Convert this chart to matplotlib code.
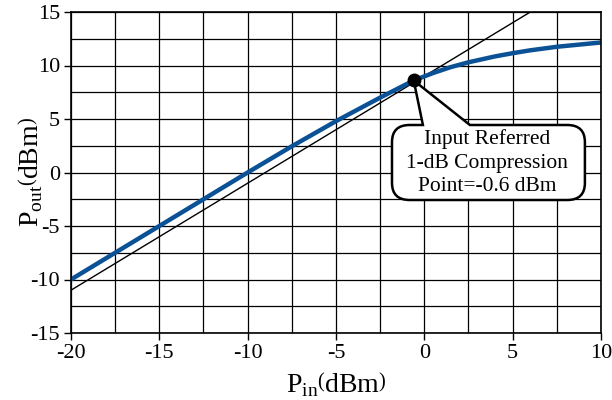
import numpy as np
import matplotlib
matplotlib.use('Agg')
import matplotlib.pyplot as plt
from matplotlib.path import Path
from matplotlib.patches import PathPatch

plt.rcParams['font.family'] = ['Liberation Serif', 'DejaVu Serif']
plt.rcParams['mathtext.fontset'] = 'custom'
plt.rcParams['mathtext.rm'] = 'Liberation Serif'
plt.rcParams['axes.unicode_minus'] = False

# measured output power vs input power
pin = [-20, -17.5, -15, -12.5, -10, -7.5, -5, -2.5, -0.6, 0.5, 1.5, 2.5, 4, 5, 6, 7.5, 10]
pout = [-10, -7.5, -5, -2.5, 0, 2.45, 4.8, 7.0, 8.6, 9.3, 9.85, 10.3, 10.85, 11.15, 11.42, 11.75, 12.15]

# ideal linear gain line (slope 1 dB/dB)
lin_x = [-20, 6]
lin_y = [-11, 15]

p1db_in = -0.6
p1db_out = 8.6

xticks = [-20, -15, -10, -5, 0, 5, 10]
yticks = [-15, -10, -5, 0, 5, 10, 15]
grid_x = np.arange(-20, 10.1, 2.5)
grid_y = np.arange(-15, 15.1, 2.5)

callout_lines = ['Input Referred', '1-dB Compression', 'Point=-0.6 dBm']


def callout_path(apex, left, right, bottom, top, tail_l, tail_r, rx, ry):
  verts = [
    (tail_l, top), apex, (tail_r, top),
    (right - rx, top), (right, top), (right, top - ry),
    (right, bottom + ry), (right, bottom), (right - rx, bottom),
    (left + rx, bottom), (left, bottom), (left, bottom + ry),
    (left, top - ry), (left, top), (left + rx, top),
    (tail_l, top),
  ]
  codes = [Path.MOVETO, Path.LINETO, Path.LINETO,
           Path.LINETO, Path.CURVE3, Path.CURVE3,
           Path.LINETO, Path.CURVE3, Path.CURVE3,
           Path.LINETO, Path.CURVE3, Path.CURVE3,
           Path.LINETO, Path.CURVE3, Path.CURVE3,
           Path.CLOSEPOLY]
  return Path(verts, codes)


fig = plt.figure(figsize=(6.12, 4.0), dpi=100)
ax = fig.add_axes([0.116, 0.1675, 0.866, 0.8025])

for gx in grid_x:
  ax.axvline(gx, color='black', lw=0.9, zorder=1)
for gy in grid_y:
  ax.axhline(gy, color='black', lw=0.9, zorder=1)

ax.plot(lin_x, lin_y, color='black', lw=1.0, zorder=2)
ax.plot(pin, pout, color='#0b5196', lw=3.2, solid_capstyle='butt', zorder=3)

box = callout_path((p1db_in, p1db_out), -1.83, 9.09, -2.57, 4.44,
                   -0.08, 2.58, 1.0, 1.6)
ax.add_patch(PathPatch(box, facecolor='white', edgecolor='black', lw=1.8,
                       zorder=4, clip_on=False))
ax.plot([p1db_in], [p1db_out], 'o', color='black', ms=9, zorder=5)
ax.text(3.55, 0.9, '\n'.join(callout_lines), ha='center', va='center',
        fontsize=15.5, linespacing=1.32, zorder=6)

ax.set_xlim(-20, 10)
ax.set_ylim(-15, 15)
ax.set_xticks(xticks)
ax.set_yticks(yticks)
ax.tick_params(direction='out', length=5, width=1, labelsize=16, pad=3,
               color='black')
for s in ax.spines.values():
  s.set_color('black')
  s.set_linewidth(1.2)
  s.set_zorder(6)

ax.set_xlabel(r'$\mathrm{P}_{\mathrm{in}}\left(\mathrm{dBm}\right)$',
              fontsize=20, va='center')
ax.set_ylabel(r'$\mathrm{P}_{\mathrm{out}}\left(\mathrm{dBm}\right)$',
              fontsize=20, va='center')
ax.xaxis.set_label_coords(0.5, -0.16)
ax.yaxis.set_label_coords(-0.076, 0.5)

plt.savefig('out.png', dpi=100)
plt.close()
